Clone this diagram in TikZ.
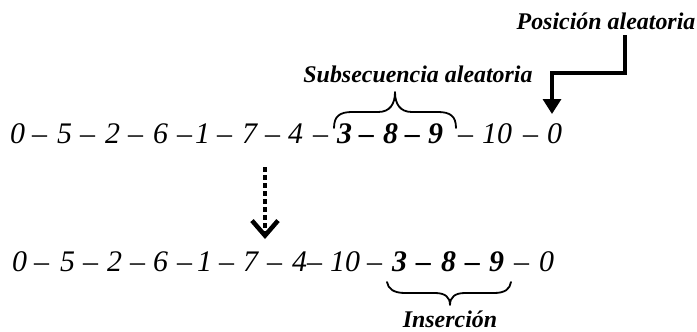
\documentclass[tikz,border=0pt]{standalone}
\usepackage{fontspec}
\setmainfont{Liberation Serif}
\usetikzlibrary{arrows.meta}
\begin{document}
\begin{tikzpicture}[x=1bp,y=-1bp,
  num/.style={font=\fontsize{30}{30}\selectfont\itshape, inner sep=0pt, anchor=base west},
  numb/.style={font=\fontsize{30}{30}\selectfont\bfseries\itshape, inner sep=0pt, anchor=base west},
  lbl/.style={font=\fontsize{24}{24}\selectfont\bfseries\itshape, inner sep=0pt, anchor=base},
  brc/.style={line width=1.8bp, line cap=round, line join=round}]
\useasboundingbox (0,0) rectangle (697,331);
% line 1
\foreach \t/\x [count=\i] in {0/10, –/32, 5/57, –/80, 2/105, –/128, 6/153, –/177, 1/195, –/217, 7/242, –/265, 4/288, –/313}
  \node[num] (ua\i) at (\x,143) {\t};
\foreach \t/\x [count=\i] in {3/337, –/359, 8/383, –/405, 9/428}
  \node[numb] (ub\i) at (\x,143) {\t};
\foreach \t/\x [count=\i] in {–/458, 10/482, –/523}
  \node[num] (uc\i) at (\x,143) {\t};
\node[num] (uz) at (547,143) {0};
% line 2
\foreach \t/\x [count=\i] in {0/12, –/34, 5/60, –/83, 2/107, –/130, 6/153, –/177, 1/197, –/219, 7/243, –/267, 4/292, –/307, 10/330, –/367}
  \node[num] (la\i) at (\x,271) {\t};
\foreach \t/\x [count=\i] in {3/392, –/416, 8/441, –/465, 9/489}
  \node[numb] (lb\i) at (\x,271) {\t};
\foreach \t/\x [count=\i] in {–/514, 0/539}
  \node[num] (lc\i) at (\x,271) {\t};
% top brace
\coordinate (tl) at (334,128);
\coordinate (tt) at (395,92);
\coordinate (tr) at (456,128);
\draw[brc] (tl) .. controls (334,116) and (340,112) .. (352,112) -- (378,112)
  .. controls (390,112) and (395,104) .. (tt)
  .. controls (395,104) and (400,112) .. (412,112) -- (438,112)
  .. controls (450,112) and (456,116) .. (tr);
\node[lbl] (sub) at (418,82) {Subsecuencia aleatoria};
% bottom brace
\coordinate (bl) at (387,282);
\coordinate (bt) at (450,305);
\coordinate (br) at (511,282);
\draw[brc] (bl) .. controls (388,289) and (394,293) .. (405,293) -- (435,293)
  .. controls (445,293) and (450,297) .. (bt)
  .. controls (450,297) and (455,293) .. (465,293) -- (494,293)
  .. controls (505,293) and (510,289) .. (br);
\node[lbl] (ins) at (450,327) {Inserción};
% position arrow
\node[lbl] (pos) at (606,29) {Posición aleatoria};
\coordinate (p1) at (625,35);
\coordinate (p2) at (625,73);
\coordinate (p3) at (552,73);
\coordinate (p4) at (552,114);
\draw[line width=3.3bp, -{Triangle[length=15bp,width=18bp]}] (p1) -- (p2) -- (p3) -- (p4);
% dotted arrow
\coordinate (d1) at (265,167);
\coordinate (d2) at (265,239);
\draw[line width=4.5bp, dash pattern=on 4.5bp off 3.5bp, -{Straight Barb[length=15bp,width=26bp,line width=4.5bp]}] (d1) -- (d2);
\end{tikzpicture}
\end{document}
